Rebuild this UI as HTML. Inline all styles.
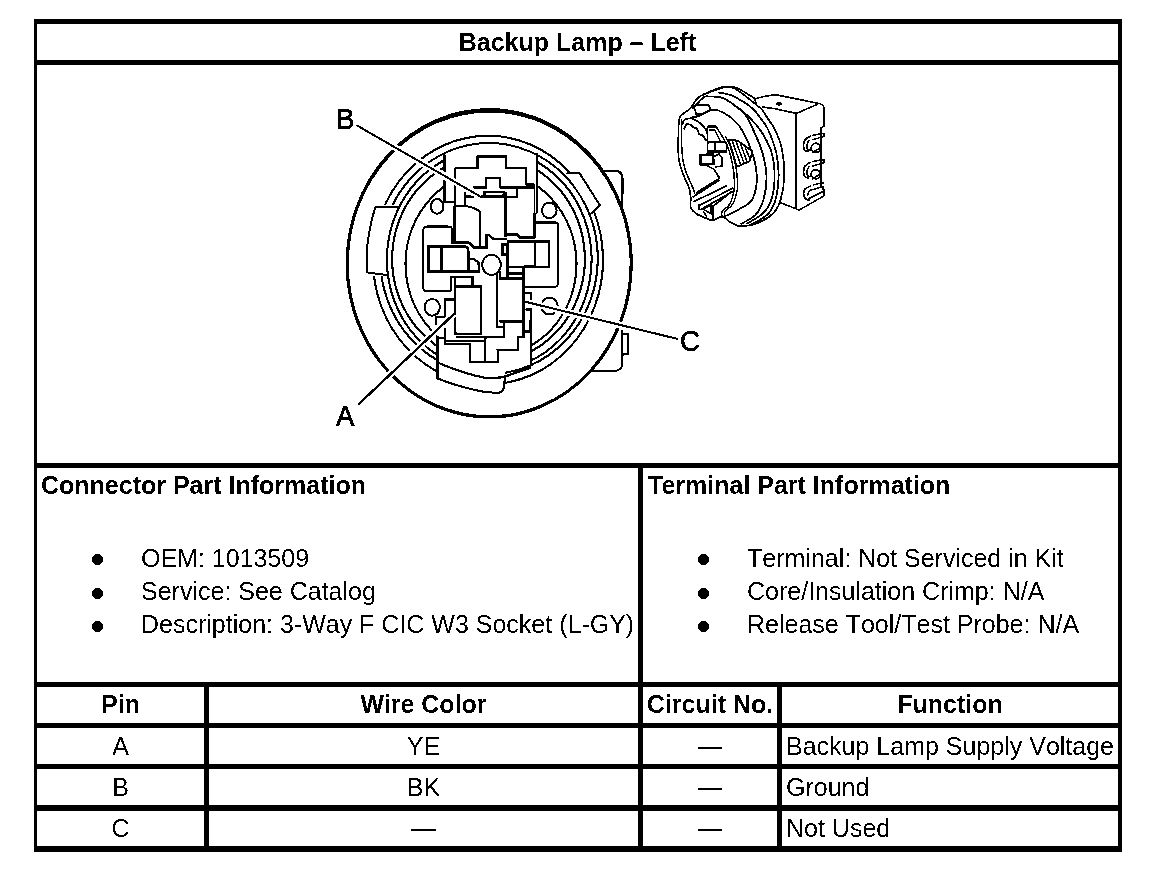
<!DOCTYPE html>
<html><head><meta charset="utf-8">
<style>
html,body{margin:0;padding:0;background:#fff;}
body{width:1152px;height:872px;position:relative;overflow:hidden;}
#pg{position:absolute;left:0;top:0;width:1152px;height:872px;background:#fff;filter:url(#bw);font-family:"Liberation Sans",sans-serif;color:#000;}
.l{position:absolute;background:#000;}
.t{position:absolute;white-space:pre;font-size:25px;line-height:25px;font-kerning:none;}
.b{font-weight:bold;font-kerning:normal;}
.c{text-align:center;}
.dot{position:absolute;width:11px;height:11px;border-radius:50%;background:#000;}
</style></head><body>
<svg width="0" height="0" style="position:absolute"><filter id="bw" x="0" y="0" width="100%" height="100%" color-interpolation-filters="sRGB"><feComponentTransfer><feFuncR type="discrete" tableValues="0 1"/><feFuncG type="discrete" tableValues="0 1"/><feFuncB type="discrete" tableValues="0 1"/></feComponentTransfer></filter></svg>
<div id="pg">
<!-- grid lines -->
<div class="l" style="left:34px;top:19px;width:1088px;height:5px"></div>
<div class="l" style="left:34px;top:19px;width:3px;height:833px"></div>
<div class="l" style="left:1118px;top:19px;width:4px;height:833px"></div>
<div class="l" style="left:34px;top:846px;width:1088px;height:6px"></div>
<div class="l" style="left:34px;top:60px;width:1088px;height:5px"></div>
<div class="l" style="left:34px;top:463px;width:1088px;height:5px"></div>
<div class="l" style="left:34px;top:682px;width:1088px;height:5px"></div>
<div class="l" style="left:34px;top:723px;width:1088px;height:5px"></div>
<div class="l" style="left:34px;top:764px;width:1088px;height:5px"></div>
<div class="l" style="left:34px;top:805px;width:1088px;height:6px"></div>
<div class="l" style="left:638px;top:463px;width:5px;height:389px"></div>
<div class="l" style="left:204px;top:682px;width:5px;height:170px"></div>
<div class="l" style="left:777px;top:682px;width:5px;height:170px"></div>

<!-- header -->
<div class="t b c" style="left:37px;width:1081px;top:30px">Backup Lamp – Left</div>

<!-- info -->
<div class="t b" style="left:41px;top:473px">Connector Part Information</div>
<div class="t b" style="left:648px;top:473px">Terminal Part Information</div>

<div class="dot" style="left:92px;top:554px"></div>
<div class="dot" style="left:92px;top:588px"></div>
<div class="dot" style="left:92px;top:621px"></div>
<div class="t" style="left:141px;top:546px">OEM: 1013509</div>
<div class="t" style="left:141px;top:579px">Service: See Catalog</div>
<div class="t" style="left:141px;top:612px">Description: 3-Way F CIC W3 Socket (L-GY)</div>

<div class="dot" style="left:698px;top:554px"></div>
<div class="dot" style="left:698px;top:588px"></div>
<div class="dot" style="left:698px;top:621px"></div>
<div class="t" style="left:747px;top:546px">Terminal: Not Serviced in Kit</div>
<div class="t" style="left:747px;top:579px">Core/Insulation Crimp: N/A</div>
<div class="t" style="left:747px;top:612px">Release Tool/Test Probe: N/A</div>

<!-- table header -->
<div class="t b c" style="left:37px;width:167px;top:692px">Pin</div>
<div class="t b c" style="left:209px;width:429px;top:692px">Wire Color</div>
<div class="t b c" style="left:643px;width:134px;top:692px">Circuit No.</div>
<div class="t b c" style="left:782px;width:336px;top:692px">Function</div>

<!-- rows -->
<div class="t c" style="left:37px;width:167px;top:734px">A</div>
<div class="t c" style="left:209px;width:429px;top:734px">YE</div>
<div class="t c" style="left:643px;width:134px;top:734px">—</div>
<div class="t" style="left:786px;top:734px">Backup Lamp Supply Voltage</div>

<div class="t c" style="left:37px;width:167px;top:775px">B</div>
<div class="t c" style="left:209px;width:429px;top:775px">BK</div>
<div class="t c" style="left:643px;width:134px;top:775px">—</div>
<div class="t" style="left:786px;top:775px">Ground</div>

<div class="t c" style="left:37px;width:167px;top:816px">C</div>
<div class="t c" style="left:209px;width:429px;top:816px">—</div>
<div class="t c" style="left:643px;width:134px;top:816px">—</div>
<div class="t" style="left:786px;top:816px">Not Used</div>

<svg width="1152" height="872" viewBox="0 0 1152 872" style="position:absolute;left:0;top:0">
<defs>
<clipPath id="cA"><path clip-rule="evenodd" d="M0 0H1152V872H0Z M369 205 L398 205 L390 276 L364 276 Z M437.5 330 L505 330 L505 377 L503.5 398 L437.5 398 Z M567.5 174.2 L579 174.2 L598.5 205.3 L591.5 212 Z"/></clipPath>
<clipPath id="cB"><path clip-rule="evenodd" d="M0 0H1152V872H0Z M444.5 120 L536.5 120 L536.5 215 L444.5 215 Z M437.5 325 L531 325 L531 400 L437.5 400 Z"/></clipPath>
</defs>
<g fill="none" stroke="#000" stroke-linejoin="miter" stroke-linecap="butt">
<ellipse cx="489.2" cy="263.2" rx="142.0" ry="153.7" stroke-width="2.8" />
<ellipse cx="489.2" cy="263.95" rx="142.0" ry="152.95" stroke-width="2.8" />
<g clip-path="url(#cA)"><ellipse cx="488" cy="260" rx="115" ry="124.3" stroke-width="2.1" /><ellipse cx="489" cy="258.5" rx="108.8" ry="115.5" stroke-width="2.1" /></g>
<g clip-path="url(#cB)"><ellipse cx="489.25" cy="259.6" rx="102.35" ry="110.7" stroke-width="2.1" /><ellipse cx="488.5" cy="259" rx="96.4" ry="103" stroke-width="2.1" /><ellipse cx="491" cy="264" rx="85.5" ry="92.4" stroke-width="2.1" /></g>
<path d="M398 207.6 L378.5 206.4 Q375.2 206.6 374.6 209.5 Q368 232 366.8 252 L366.8 272.4 L387 275" stroke-width="2.0" />
<path d="M604 170.8 L616.5 170.8 Q622.3 171.5 622.6 179 L622.2 209" stroke-width="2.2" />
<path d="M566.4 173.2 L579.6 173.2 L599.9 205.3 L590.8 213.7" stroke-width="2.0" />
<path d="M622.4 330 L622.4 363 Q622 370.4 615.5 370.8 L591.5 371.5" stroke-width="2.0" />
<path d="M622.4 334 L628.3 334 L628.3 354.3 L622.4 354.3" stroke-width="2.0" />
<path d="M437.5 336 L437.5 378.5 Q462 388 486.2 392.2 L498.8 392.8 Q503 392 503.6 388.5 L505.1 376.2" stroke-width="2.0" />
<path d="M437.5 362.4 Q462 373 485 377.9 Q496 378.6 504.5 376.6 L531 367.6" stroke-width="2.2" />
<path d="M444.5 154.4 V202.2 H453.8 M454.8 168.1 H477.5 V156.4 H506.4 V168.1 H526.3 V184.6 H534.6 M454.8 168.1 V242.5 M472.7 187.4 H486.4 V177.7 H500.2 V187.4 H534.6 M516.7 188 V197.2 H503 M465.1 192.2 V206" stroke-width="2.0" />
<path d="M536.9 152.6 V213.3 M534.2 184.6 V213.3 H536.9" stroke-width="1.3" />
<path d="M465.1 196.4 H505.2" stroke-width="2.0" />
<rect x="484.4" y="191.8" width="19.2" height="4" stroke-width="2.2" fill="none" stroke="#000"/>
<path d="M505.2 191.5 V237.3" stroke-width="2.8" />
<path d="M454.4 242 V206.6 Q460 205.6 465.3 205.8 Q473 207 479.6 211 V246.5" stroke-width="2.0" />
<path d="M451 242.5 H468.2 Q471 243.5 473.9 247.7 H486.5 V235 H488.8 L493.4 239 H507.2" stroke-width="2.4" />
<path d="M505.2 234.5 H517 L519.5 237.3 H534.4 V213" stroke-width="2.6" />
<path d="M534.4 222.4 H556 Q557.8 222.6 557.9 225 V284 Q557.6 287.2 554 287.2 H524.4" stroke-width="2.0" />
<path d="M508 241.6 H549.3 V267.2 H508 Z M535 241.6 V267.2" stroke-width="2.2" />
<path d="M502.3 244.2 H507 V254.6 H502.3 Z" stroke-width="2.4" />
<path d="M508 241 V280" stroke-width="2.0" />
<path d="M452 242.5 V230 Q452 226.4 448.7 226.4 H427 Q423.3 226.4 423.3 230 V287.5 Q423.3 291.2 427 291.2 H449.4 Q451 291 451 288 V276.7 H472.8 V286.6" stroke-width="2.0" />
<path d="M452 230 V242.5" stroke-width="3.0" />
<path d="M428.6 246.6 H464.5 Q468.2 246.8 468.2 250.5 V271.7 H428.6 Z M441.8 246.6 V271.7" stroke-width="2.6" />
<path d="M468.2 259.1 H473.9 L478.5 262.6 L479 271.7 H468" stroke-width="2.2" />
<ellipse cx="491.5" cy="264.8" rx="9.4" ry="10.1" stroke-width="2.0" />
<path d="M455.1 286.6 H481.1 V334 H455.1 Z" stroke-width="2.6" />
<path d="M455.1 286.6 V278.2 M472 278.2 V286.6" stroke-width="2.0" />
<path d="M454 299.6 H444.7 V316.8 H436.4 V325.6" stroke-width="2.0" />
<path d="M496.8 273.5 V326.7 H504 V338" stroke-width="2.0" />
<path d="M500.4 278.8 H522.8 M500.4 321.5 H522.8" stroke-width="2.4" />
<path d="M500.4 271 V280" stroke-width="2.0" />
<path d="M506.7 255 V277.7 M508.8 273.5 H522.8" stroke-width="2.0" />
<path d="M523.6 266.3 V338" stroke-width="2.8" />
<path d="M523.6 266.3 H535" stroke-width="2.0" />
<path d="M525.3 293.3 H531 V300.5 H525.3 M525.3 309.6 H531.3 V366.3" stroke-width="2.0" />
<path d="M444.9 328 V345 M436.9 338.3 H444.9 M444.3 344 H469.6 V361.9 H497.7 V349.2 M496.5 349.8 H518.3 V337.2 H524 M504 322.3 V337.2 M529.8 320 V331.5 H525" stroke-width="2.0" />
<path d="M444.9 340.9 H483.9" stroke-width="1.5" />
<path d="M456.4 337.2 H504.5" stroke-width="2.2" />
<path d="M485.2 338.3 V361.9" stroke-width="2.6" />
<path d="M498.8 321 H524" stroke-width="2.6" />
<path d="M524 320 V337.2" stroke-width="2.6" />
<ellipse cx="437.2" cy="206.4" rx="6.3" ry="7.3" stroke-width="2.0" />
<ellipse cx="549.3" cy="210.4" rx="7.3" ry="7.8" stroke-width="2.0" />
<ellipse cx="432.2" cy="307.4" rx="7.6" ry="8.3" stroke-width="2.0" />
<ellipse cx="549.5" cy="306" rx="8.2" ry="8.6" stroke-width="2.0" />
<line x1="356.4" y1="125.2" x2="479.6" y2="196.2" stroke="#fff" stroke-width="6.5"/>
<line x1="358.2" y1="404.6" x2="454.3" y2="313.6" stroke="#fff" stroke-width="6.5"/>
<line x1="525.3" y1="301.8" x2="677.9" y2="339" stroke="#fff" stroke-width="6.5"/>
<line x1="356.4" y1="125.2" x2="479.6" y2="196.2" stroke="#000" stroke-width="2.0"/>
<line x1="358.2" y1="404.6" x2="454.3" y2="313.6" stroke="#000" stroke-width="2.3"/>
<line x1="525.3" y1="301.8" x2="677.9" y2="339" stroke="#000" stroke-width="2.0"/>
</g>
<g font-family="Liberation Sans, sans-serif" fill="#000" stroke="#000" stroke-width="0.6">
<text transform="translate(336 128.6) scale(0.92 1)" font-size="30">B</text>
<text transform="translate(336 425.6) scale(0.92 1)" font-size="30">A</text>
<text transform="translate(680 351.2) scale(0.92 1)" font-size="30">C</text>
</g>
</svg>
<svg width="1152" height="872" viewBox="0 0 1152 872" style="position:absolute;left:0;top:0">
<g fill="none" stroke="#000">
<path d="M754.9 98.9 L763.2 96.5 L775.7 94.6 L820.2 103.8 Q824.2 105.5 824.2 109 L824 126.2 L821 127.8 L821 186.7 L824 190 L824 195.9 L799.1 210.1 L796.5 209 L779.2 202.2 L770 160 Z" stroke-width="1.6" fill="#fff"/>
<path d="M761.8 106.8 L775 108.8 L796.4 113.4 L817.5 104.3" stroke-width="1.6" fill="none"/>
<path d="M796.2 113.4 V208.7" stroke-width="1.6" fill="none"/>
<ellipse cx="779" cy="103.8" rx="3.5" ry="1.8" fill="#000" stroke="none"/>
<circle cx="815.8" cy="147.9" r="4.6" stroke-width="1.9" fill="none"/>
<path d="M811 135.9 Q803 138.9 803.5 145.9 Q803.5 151.9 809 151.4" stroke-width="1.8" fill="none"/>
<path d="M809.5 139.9 Q806.5 142.9 807 147.9 Q807.5 150.9 811 149.9" stroke-width="1.5" fill="none"/>
<path d="M812.5 135.4 L821 133.4 L824 133.4 V136.4 L812 139.9" stroke-width="1.5" fill="none"/>
<path d="M812 152.9 L820 147.9 " stroke-width="1.5" fill="none"/>
<circle cx="815.8" cy="174.2" r="4.6" stroke-width="1.9" fill="none"/>
<path d="M811 162.2 Q803 165.2 803.5 172.2 Q803.5 178.2 809 177.7" stroke-width="1.8" fill="none"/>
<path d="M809.5 166.2 Q806.5 169.2 807 174.2 Q807.5 177.2 811 176.2" stroke-width="1.5" fill="none"/>
<path d="M812.5 161.7 L821 159.7 L824 159.7 V162.7 L812 166.2" stroke-width="1.5" fill="none"/>
<path d="M812 179.2 L820 174.2 " stroke-width="1.5" fill="none"/>
<path d="M811 186 Q803 188 803.5 194 Q804 200 810 200" stroke-width="1.8" fill="none"/>
<path d="M807.5 196 Q808 189 815 189 L823.5 186.5 L824 191 L808 199" stroke-width="1.5" fill="none"/>
<path d="M812.5 185 L821 183 L824 183" stroke-width="1.5" fill="none"/>
<path d="M678.8 123.1 C679.2 117.4 679.0 118.1 681.0 115.6 C683.0 113.1 687.6 111.1 690.6 108.0 C693.6 104.9 694.8 100.0 698.9 97.0 C703.0 94.0 710.9 91.9 715.0 90.3 C719.1 88.7 720.4 88.0 723.3 87.5 C726.2 87.0 729.0 86.5 732.2 87.5 C735.4 88.5 739.0 91.2 742.5 93.7 C746.0 96.2 750.3 100.0 753.5 102.6 C756.7 105.2 759.5 107.0 761.8 109.5 C764.1 112.0 765.1 114.4 767.3 117.8 C769.5 121.2 772.6 124.7 775.1 130.0 C777.6 135.3 780.5 141.8 782.0 149.5 C783.5 157.2 784.5 167.7 784.3 175.9 C784.1 184.1 782.6 192.7 780.9 198.8 C779.2 204.9 777.8 208.6 774.0 212.6 C770.2 216.6 763.4 220.6 757.9 222.9 C752.4 225.2 745.2 226.4 740.7 226.3 C736.2 226.2 734.0 224.1 730.9 222.5 C727.8 220.9 725.3 217.1 722.3 216.7 C719.3 216.3 716.0 220.0 713.1 220.2 C710.2 220.4 707.9 219.0 705.1 217.9 C702.3 216.8 698.9 215.5 696.5 213.8 C694.1 212.1 691.7 210.3 690.7 207.5 C689.7 204.7 691.1 200.7 690.7 197.2 C690.4 193.7 689.9 190.3 688.6 186.5 C687.3 182.7 684.7 178.5 683.1 174.1 C681.5 169.7 679.8 164.3 679.0 160.3 C678.2 156.3 678.3 156.2 678.3 150.0 C678.3 143.8 678.3 128.8 678.8 123.1 Z" stroke-width="1.7" fill="#fff"/>
<path d="M702.3 95.0 C704.4 94.1 711.5 90.9 715.0 89.5 C718.5 88.1 720.4 87.2 723.3 86.8 C726.2 86.3 729.8 86.6 732.2 86.8 C734.6 87.0 735.4 87.2 737.7 88.2 C740.0 89.2 743.1 91.3 746.0 93.0 C748.9 94.7 753.4 97.6 754.9 98.5" stroke-width="1.6" fill="none"/>
<path d="M717.8 92.3 C720.0 92.8 726.7 93.6 730.8 95.1 C734.9 96.6 738.7 98.9 742.5 101.3 C746.3 103.7 750.3 106.4 753.5 109.5 C756.7 112.6 759.3 116.5 761.8 119.9 C764.3 123.3 765.9 124.5 768.3 130.0 C770.7 135.5 774.6 145.2 776.3 152.9 C778.0 160.6 778.8 167.9 778.6 175.9 C778.4 183.9 777.0 194.6 775.1 201.1 C773.2 207.6 771.3 210.9 767.1 214.9 C762.9 218.9 752.8 223.5 749.9 225.2" stroke-width="1.8" fill="none"/>
<path d="M692.0 108.8 C693.6 107.2 699.4 101.2 701.7 99.1 C704.0 97.0 703.6 96.8 705.8 96.4 C708.0 96.0 712.0 96.5 715.0 96.8 C718.0 97.1 720.6 97.0 724.0 98.5 C727.4 100.0 731.8 103.3 735.6 106.1 C739.4 108.8 743.2 111.8 746.7 115.0 C750.2 118.2 753.5 121.7 756.3 125.0 C759.1 128.3 760.9 130.3 763.5 135.0 C766.1 139.7 769.9 146.1 771.7 152.9 C773.6 159.7 774.6 168.2 774.6 175.9 C774.6 183.6 773.5 192.7 771.7 198.8 C769.9 204.9 767.9 208.4 763.7 212.6 C759.5 216.8 749.4 222.1 746.5 224.0" stroke-width="1.8" fill="none"/>
<path d="M732.0 104.0 C734.0 105.5 740.5 108.7 744.0 113.0 C747.5 117.3 750.2 123.3 753.3 130.0 C756.4 136.7 760.3 145.2 762.5 152.9 C764.7 160.6 766.3 168.2 766.5 175.9 C766.7 183.6 765.5 192.3 763.7 198.8 C761.9 205.3 759.4 210.7 755.6 214.9 C751.8 219.1 743.2 222.5 740.7 224.0" stroke-width="1.8" fill="none"/>
<path d="M690.6 117.7 C692.1 117.3 696.3 116.9 699.6 115.6 C702.9 114.3 707.5 110.6 710.6 109.8 C713.7 109.0 715.8 109.9 718.2 110.5 C720.6 111.1 722.7 112.1 725.1 113.6 C727.5 115.0 730.1 116.5 732.9 119.2 C735.7 121.9 738.7 124.4 741.9 130.0 C745.1 135.6 749.7 145.2 752.2 152.9 C754.7 160.6 756.4 169.0 756.8 175.9 C757.2 182.8 755.8 189.6 754.5 194.2 C753.2 198.8 752.0 200.5 748.8 203.4 C745.5 206.3 739.1 209.2 735.0 211.4 C730.9 213.6 725.8 215.8 724.0 216.7" stroke-width="1.8" fill="none"/>
<path d="M692.7 106.7 L700.3 104.6 L708.5 104.6 L710.6 109.8 L703 114.3 L696.2 114.3 L695.5 110.8 Z" stroke-width="1.6" fill="none"/>
<path d="M681.6 119.0 C681.6 121.7 681.4 129.8 681.4 135.0 C681.4 140.2 681.6 145.5 681.9 150.0 C682.2 154.5 682.5 158.1 683.3 162.0 C684.1 165.9 685.2 169.7 686.6 173.6 C688.0 177.5 690.5 182.3 691.9 185.6 C693.3 188.9 694.5 192.2 695.0 193.5" stroke-width="1.5" fill="none"/>
<path d="M682.4 125.3 C682.6 124.5 682.6 121.7 683.8 120.5 C684.9 119.3 687.5 118.5 689.3 118.4 C691.1 118.3 693.0 119.0 694.8 119.8 C696.6 120.6 698.5 121.6 700.3 123.2 C702.1 124.8 704.6 127.7 705.8 129.4 C707.0 131.1 707.2 132.8 707.5 133.5" stroke-width="1.8" fill="none"/>
<path d="M683.8 129.4 L686.5 123.9 L690.6 124.6 L693.4 127.3 L696.8 128 L698.2 131.5 L698.9 134.2 L703 135.6 L705.1 139 L705.8 141" stroke-width="1.8" fill="none"/>
<path d="M716.0 126.5 C717.0 128.1 720.0 132.6 722.0 136.0 C724.0 139.4 726.2 143.0 727.8 147.0 C729.4 151.0 730.6 155.3 731.6 160.0 C732.6 164.7 733.6 170.0 734.0 175.0 C734.4 180.0 734.9 185.2 734.2 190.0 C733.5 194.8 731.7 200.6 729.7 204.1 C727.7 207.6 723.6 208.9 722.3 211.0 C721.0 213.1 721.8 215.8 721.7 216.7" stroke-width="1.5" fill="none"/>
<path d="M725.0 136.0 C726.0 137.8 729.2 143.0 730.8 147.0 C732.4 151.0 733.6 155.3 734.6 160.0 C735.6 164.7 736.6 170.0 737.0 175.0 C737.4 180.0 737.9 185.2 737.2 190.0 C736.5 194.8 734.7 200.6 732.7 204.1 C730.7 207.6 726.6 208.9 725.3 211.0 C724.0 213.1 724.8 215.8 724.7 216.7" stroke-width="1.4" fill="none"/>
<path d="M707.5 126.5 H716 M707.5 126.5 V151.5 H726.5 V142 M707.5 142.3 H726 M715.4 142.3 V151.5" stroke-width="1.8" fill="none"/>
<path d="M708.8 130 H714.5 L720.5 141.5" stroke-width="1.4" fill="none"/>
<path d="M700.6 155.2 L712.7 154.1 L714 163.8 L700.6 164.5 Z" stroke-width="2.4" fill="none"/>
<path d="M713 157 L719 154 L722 158 L722 166 L715 167" stroke-width="1.5" fill="none"/>
<path d="M705.8 165.1 L714 169.3 L719.6 178.2" stroke-width="1.7" fill="none"/>
<path d="M728.5 139.7 L737.7 140.6 L752.4 151.2 L749.6 161.3 L736.8 166.8 Z" stroke-width="1.8" fill="none"/>
<path d="M732 140 L740.5 164.5 M735.5 140.3 L744 163 M740.5 143.5 L747 162 M745 147 L750 159" stroke-width="1.5" fill="none"/>
<path d="M692.5 197.2 L719.4 180 M693.6 201.8 L726.9 185.7 M699.3 205.2 L733.2 188 M700.5 209.8 L732.6 191.5 M714.3 205.2 L732.6 190.9 M696.2 192.7 L719.6 178.2" stroke-width="1.8" fill="none"/>
<path d="M699.1 204 V210 M713.1 205 V219 M703 209 L711 205 L711 214 Z M703 211 L707 217" stroke-width="1.5" fill="none"/>
</g></svg>
</div>
</body></html>
